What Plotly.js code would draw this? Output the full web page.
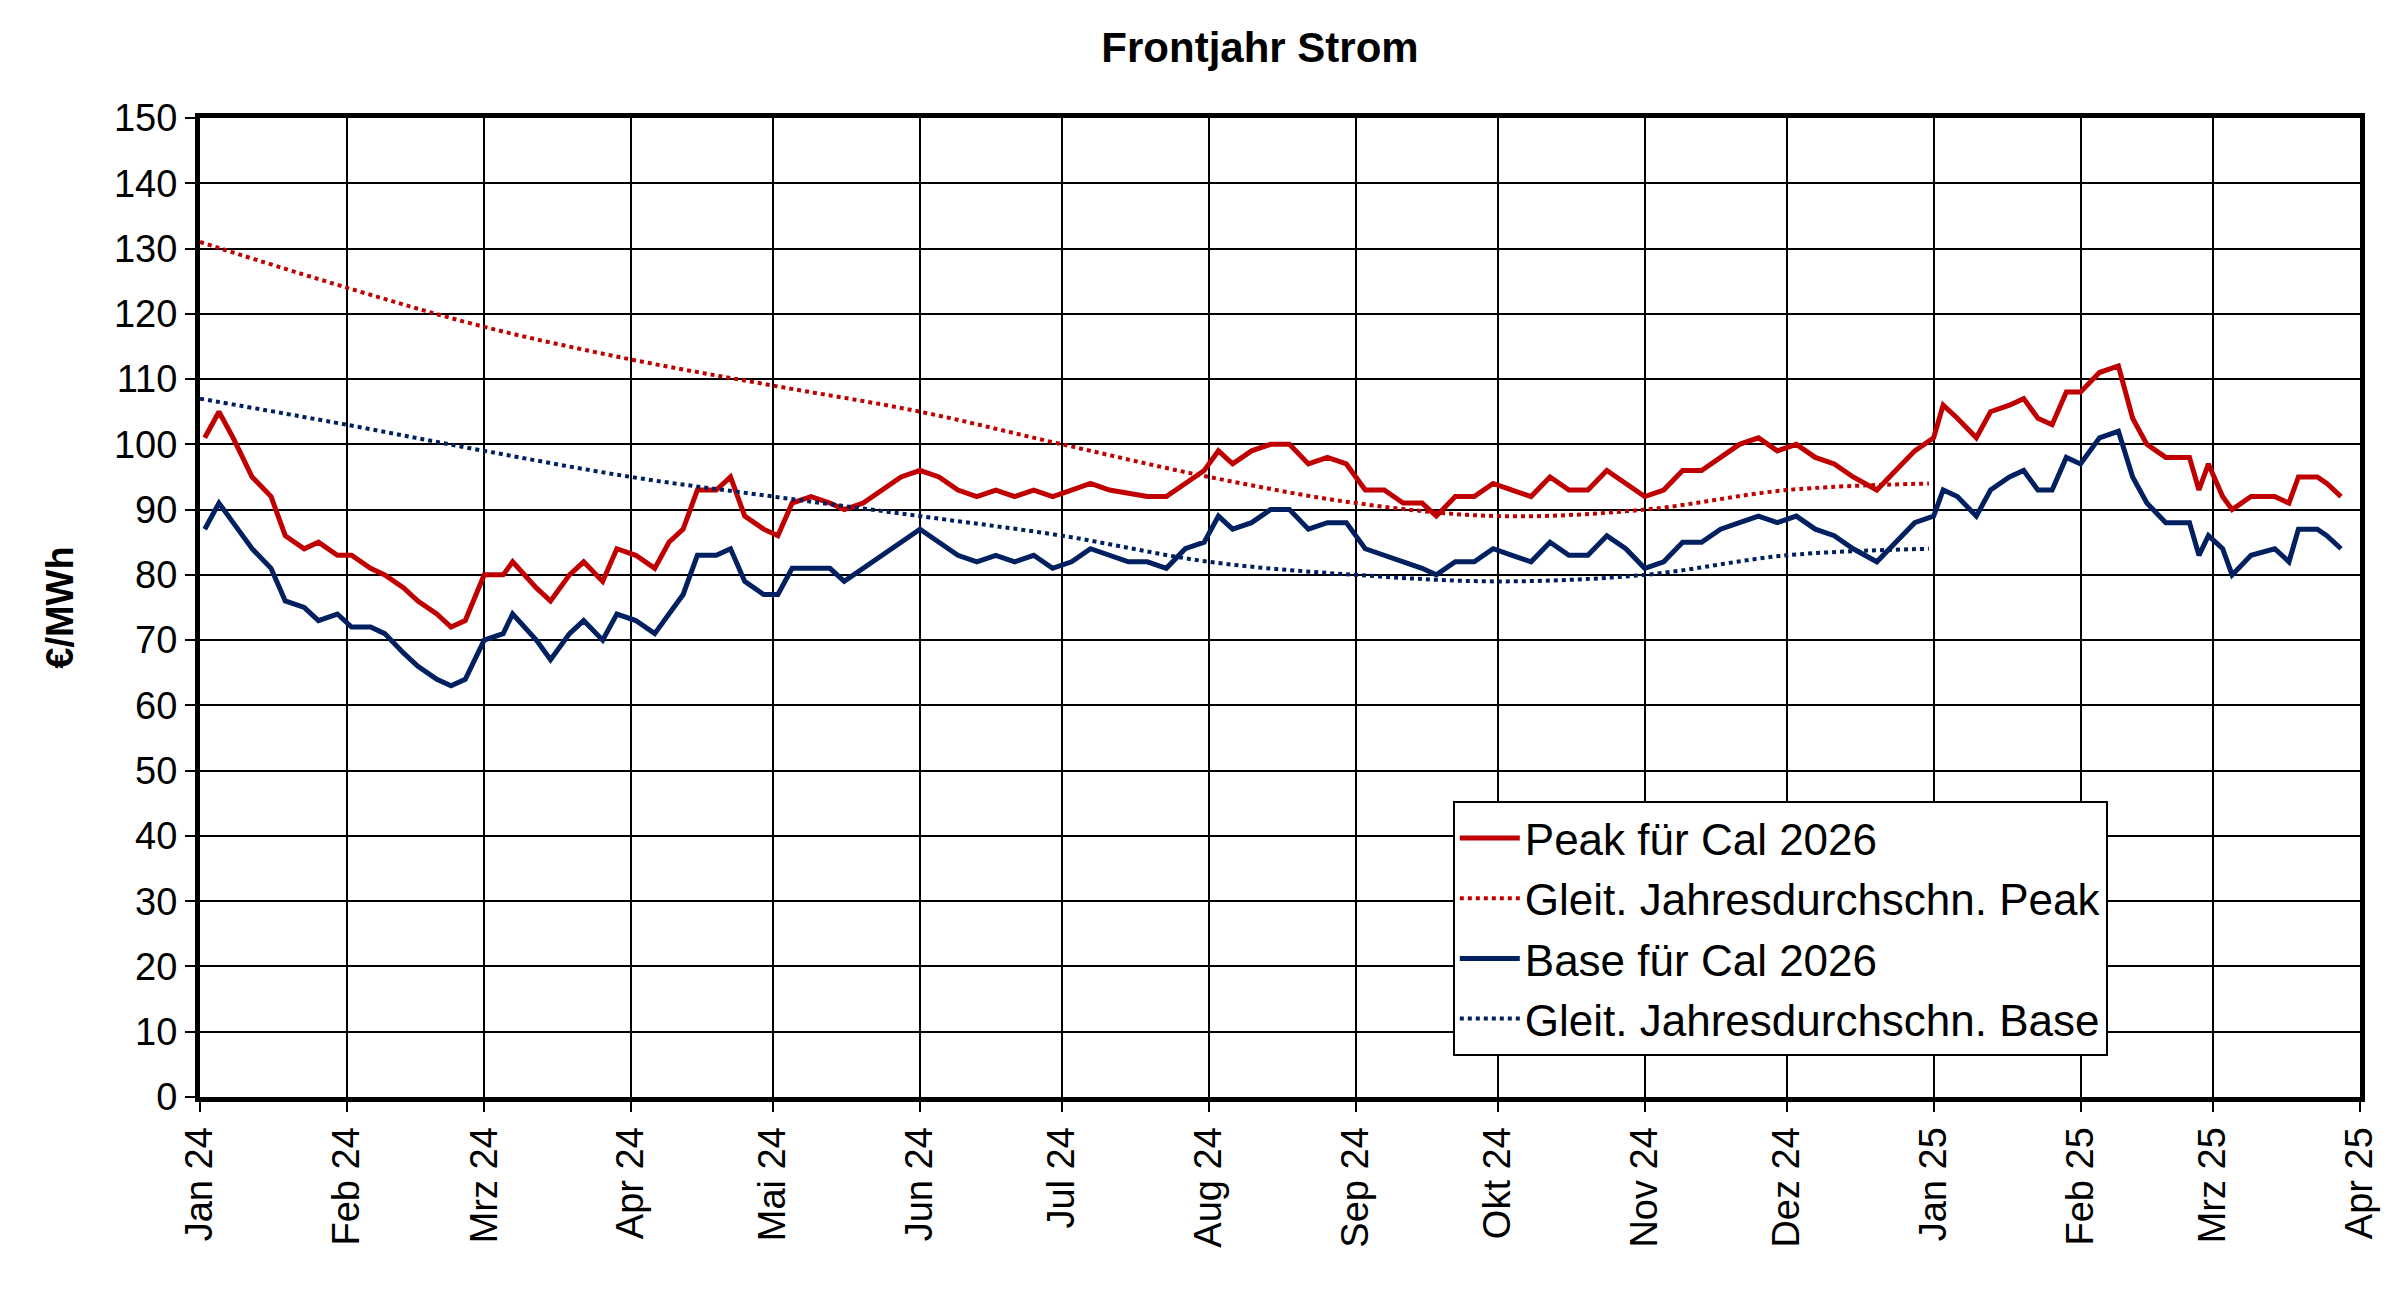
<!DOCTYPE html>
<html>
<head>
<meta charset="utf-8">
<script src="https://cdn.plot.ly/plotly-3.0.1.min.js"></script>
<style>
  html, body { margin: 0; padding: 0; background: #ffffff; }
  #chart { width: 2400px; height: 1297px; }
</style>
</head>
<body>
<div id="chart"></div>
<script>
// Samples
const dates = [
  '2024-01-02','2024-01-05','2024-01-08','2024-01-12','2024-01-16','2024-01-19','2024-01-23','2024-01-26','2024-01-30',
  '2024-02-02','2024-02-06','2024-02-09','2024-02-13','2024-02-16','2024-02-20','2024-02-23','2024-02-26',
  '2024-03-01','2024-03-05','2024-03-07','2024-03-12','2024-03-15','2024-03-19','2024-03-22','2024-03-26','2024-03-29',
  '2024-04-02','2024-04-06','2024-04-09','2024-04-12','2024-04-15','2024-04-19','2024-04-22','2024-04-25','2024-04-29',
  '2024-05-02','2024-05-05','2024-05-09','2024-05-13','2024-05-16','2024-05-20','2024-05-24','2024-05-28',
  '2024-06-01','2024-06-05','2024-06-09','2024-06-13','2024-06-17','2024-06-21','2024-06-25','2024-06-29',
  '2024-07-03','2024-07-07','2024-07-11','2024-07-15','2024-07-19','2024-07-23','2024-07-27','2024-07-31',
  '2024-08-03','2024-08-06','2024-08-10','2024-08-14','2024-08-18','2024-08-22','2024-08-26','2024-08-30',
  '2024-09-03','2024-09-07','2024-09-11','2024-09-15','2024-09-18','2024-09-22','2024-09-26','2024-09-30',
  '2024-10-04','2024-10-08','2024-10-12','2024-10-16','2024-10-20','2024-10-24','2024-10-28',
  '2024-11-01','2024-11-05','2024-11-09','2024-11-13','2024-11-17','2024-11-21','2024-11-25','2024-11-29',
  '2024-12-03','2024-12-07','2024-12-11','2024-12-15','2024-12-20','2024-12-24','2024-12-28',
  '2025-01-01','2025-01-03','2025-01-06','2025-01-10','2025-01-13','2025-01-17','2025-01-20','2025-01-23',
  '2025-01-26','2025-01-29','2025-02-01','2025-02-05','2025-02-09','2025-02-12','2025-02-15',
  '2025-02-19','2025-02-24','2025-02-26','2025-02-28','2025-03-03','2025-03-05','2025-03-09','2025-03-14','2025-03-17',
  '2025-03-19','2025-03-23','2025-03-25','2025-03-28'
];

const peak = [
  101,105,101,95,92,86,84,85,83,
  83,81,80,78,76,74,72,73,
  80,80,82,78,76,80,82,79,84,
  83,81,85,87,93,93,95,89,87,
  86,91,92,91,90,91,93,95,
  96,95,93,92,93,92,93,92,
  93,94,93,92.5,92,92,94,96,
  99,97,99,100,100,97,98,97,
  93,93,91,91,89,92,92,94,
  93,92,95,93,93,96,94,
  92,93,96,96,98,100,101,99,
  100,98,97,95,93,96,99,
  101,106,104,101,105,106,107,104,
  103,108,108,111,112,104,100,
  98,98,93,97,92,90,92,92,91,
  95,95,94,92
];

const base = [
  87,91,88,84,81,76,75,73,74,
  72,72,71,68,66,64,63,64,
  70,71,74,70,67,71,73,70,74,
  73,71,74,77,83,83,84,79,77,
  77,81,81,81,79,81,83,85,
  87,85,83,82,83,82,83,81,
  82,84,83,82,82,81,84,85,
  89,87,88,90,90,87,88,88,
  84,83,82,81,80,82,82,84,
  83,82,85,83,83,86,84,
  81,82,85,85,87,88,89,88,
  89,87,86,84,82,85,88,
  89,93,92,89,93,95,96,93,
  93,98,97,101,102,95,91,
  88,88,83,86,84,80,83,84,82,
  87,87,86,84
];

// Rolling yearly averages (dotted), end at year end 2024
const avgDates = ['2024-01-01','2024-02-01','2024-03-01','2024-04-01','2024-05-01','2024-06-01','2024-07-01',
  '2024-08-01','2024-09-01','2024-10-01','2024-11-01','2024-12-01','2024-12-31'];
const peakAvg = [131,124,118,113,109,105,100,95,91,89,90,93,94];
const baseAvg = [107,103,99,95,92,89,86,82,80,79,80,83,84];

const tickVals = ['2024-01-01','2024-02-01','2024-03-01','2024-04-01','2024-05-01','2024-06-01','2024-07-01',
  '2024-08-01','2024-09-01','2024-10-01','2024-11-01','2024-12-01','2025-01-01','2025-02-01','2025-03-01','2025-04-01'];
const tickText = ['Jan 24','Feb 24','Mrz 24','Apr 24','Mai 24','Jun 24','Jul 24','Aug 24','Sep 24','Okt 24',
  'Nov 24','Dez 24','Jan 25','Feb 25','Mrz 25','Apr 25'];

const RED = '#c00000';
const NAVY = '#002060';

const traces = [
  { x: dates, y: peak, name: 'Peak für Cal 2026', type: 'scatter', mode: 'lines',
    line: { color: RED, width: 5 } },
  { x: avgDates, y: peakAvg, name: 'Gleit. Jahresdurchschn. Peak', type: 'scatter', mode: 'lines',
    line: { color: RED, width: 4, dash: 'dot', shape: 'spline' } },
  { x: dates, y: base, name: 'Base für Cal 2026', type: 'scatter', mode: 'lines',
    line: { color: NAVY, width: 5 } },
  { x: avgDates, y: baseAvg, name: 'Gleit. Jahresdurchschn. Base', type: 'scatter', mode: 'lines',
    line: { color: NAVY, width: 4, dash: 'dot', shape: 'spline' } }
];

const layout = {
  width: 2400, height: 1297,
  paper_bgcolor: '#ffffff', plot_bgcolor: '#ffffff',
  font: { family: 'Liberation Sans, Arial, sans-serif', color: '#000000', size: 38 },
  title: { text: '<b>Frontjahr Strom</b>', x: 0.525, y: 0.975, font: { size: 42 } },
  margin: { l: 200, r: 40, t: 118, b: 200 },
  xaxis: {
    type: 'date', range: ['2024-01-01', '2025-04-01'],
    tickvals: tickVals, ticktext: tickText, tickangle: -90,
    showgrid: true, gridcolor: '#000000', gridwidth: 2,
    showline: true, linecolor: '#000000', linewidth: 5, mirror: true,
    ticks: 'outside', ticklen: 10, tickwidth: 2, tickcolor: '#000000',
    zeroline: false
  },
  yaxis: {
    range: [0, 150], dtick: 10,
    title: { text: '<b>€/MWh</b>', font: { size: 38 }, standoff: 30 },
    showgrid: true, gridcolor: '#000000', gridwidth: 2,
    showline: true, linecolor: '#000000', linewidth: 5, mirror: true,
    ticks: 'outside', ticklen: 10, tickwidth: 2, tickcolor: '#000000',
    zeroline: false
  },
  showlegend: true,
  legend: {
    x: 0.58, y: 0.042, xanchor: 'left', yanchor: 'bottom',
    bgcolor: '#ffffff', bordercolor: '#000000', borderwidth: 2,
    font: { size: 44 }, tracegroupgap: 0, itemwidth: 60
  }
};

Plotly.newPlot('chart', traces, layout, { displayModeBar: false, responsive: false });
</script>
</body>
</html>
